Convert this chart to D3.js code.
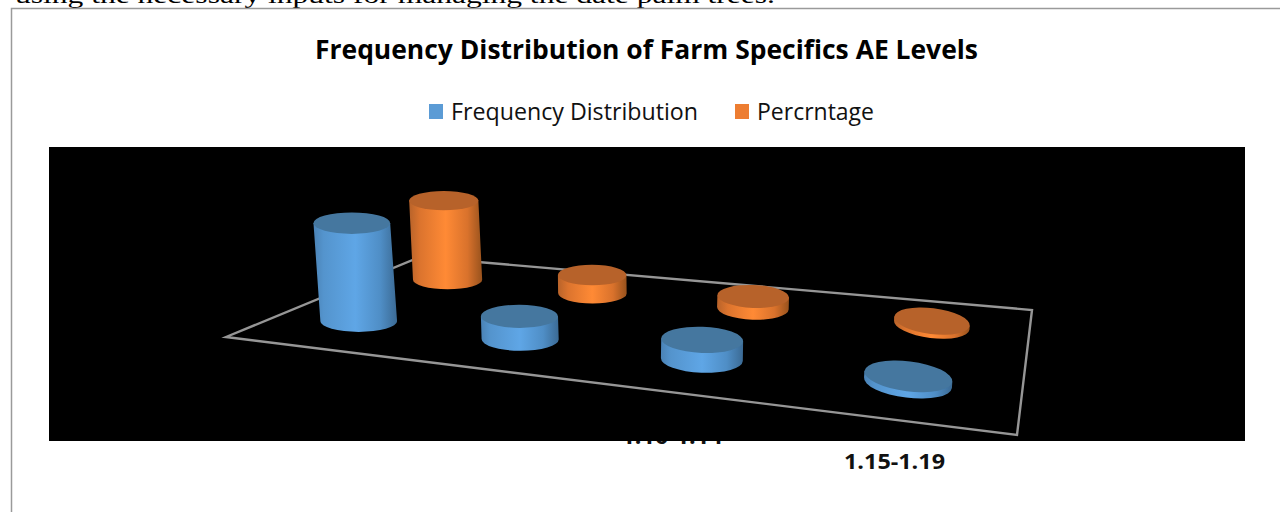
<!DOCTYPE html>
<html><head><meta charset="utf-8">
<script src="https://cdn.jsdelivr.net/npm/d3@7"></script>
<style>html,body{margin:0;padding:0;background:#fff;overflow:hidden}svg{display:block}</style>
</head><body><svg id="c" width="1280" height="512"></svg>
<script>
const categories = ["1.00-1.04","1.05-1.09","1.10-1.14","1.15-1.19"];
const frequency = [62, 14.5, 12.5, 4];
const percentage = [50, 11.5, 7.5, 2.5];
const seriesNames = ["Frequency Distribution","Percrntage"];
const shownTicks = ["1.10-1.14","1.15-1.19"];

const svg = d3.select("#c");
const FONT = "'Open Sans',sans-serif";

// page fragment
svg.append("text").attr("x",15).attr("y",3).attr("font-family","'Liberation Serif',serif")
  .attr("font-size",24).attr("textLength",760).attr("lengthAdjust","spacingAndGlyphs").attr("fill","#000")
  .text("using the necessary inputs for managing the date palm trees.");
svg.append("path").attr("d","M11.5 512V8.5H1280").attr("fill","none").attr("stroke","#9a9a9a").attr("stroke-width",1.5);

// title and legend
svg.append("text").attr("x",646.5).attr("y",59).attr("text-anchor","middle").attr("font-family",FONT)
  .attr("font-weight",700).attr("font-size",27).attr("textLength",663).attr("lengthAdjust","spacingAndGlyphs")
  .attr("fill","#000").text("Frequency Distribution of Farm Specifics AE Levels");
const seriesColour = d3.scaleOrdinal(seriesNames,["#5b9bd5","#ed7d31"]);
const legendX = d3.scaleOrdinal(seriesNames,[429,735]);
const legendW = d3.scaleOrdinal(seriesNames,[247,117]);
seriesNames.forEach(n=>{
  svg.append("rect").attr("x",legendX(n)).attr("y",104).attr("width",14).attr("height",15).attr("fill",seriesColour(n));
  svg.append("text").attr("x",legendX(n)+22).attr("y",120).attr("font-family",FONT).attr("font-size",24)
    .attr("textLength",legendW(n)).attr("lengthAdjust","spacingAndGlyphs").attr("fill","#111").text(n);
});

// category labels (the first is partly hidden by the plot area, drawn after it)
const tickX = d3.scaleOrdinal(shownTicks,[672,894.5]);
const tickY = d3.scaleOrdinal(shownTicks,[444,469]);
shownTicks.forEach(t=>{
  svg.append("text").attr("x",tickX(t)).attr("y",tickY(t)).attr("text-anchor","middle").attr("font-family",FONT)
    .attr("font-weight",700).attr("font-size",22).attr("textLength",101).attr("lengthAdjust","spacingAndGlyphs")
    .attr("fill","#111").text(t);
});
svg.append("rect").attr("x",49).attr("y",147).attr("width",1196).attr("height",294).attr("fill","#000");

// gradients
const defs = svg.append("defs");
function grad(id,stops){
  const g = defs.append("linearGradient").attr("id",id);
  stops.forEach(([o,c])=>g.append("stop").attr("offset",o).attr("stop-color",c));
}
grad("g0",[[0,"#4a82b5"],[.12,"#5494cd"],[.5,"#5fa6e6"],[.8,"#4f8ec6"],[1,"#3b6a94"]]);
grad("g1",[[0,"#b8632a"],[.15,"#dc742e"],[.5,"#ff8a35"],[.8,"#d9722c"],[1,"#98521d"]]);
const topColour = ["#45779f","#b7622a"];

// floor: a perspective map of the unit square onto the plot floor
const F = {a:[226,337],b:[1017,435],c:[1032,310],d:[420,257]};
function homography(p){
  const [x0,y0]=p.a,[x1,y1]=p.b,[x2,y2]=p.c,[x3,y3]=p.d;
  const dx1=x1-x2,dx2=x3-x2,sx=x0-x1+x2-x3,dy1=y1-y2,dy2=y3-y2,sy=y0-y1+y2-y3;
  const den=dx1*dy2-dx2*dy1;
  const g=(sx*dy2-dx2*sy)/den,h=(dx1*sy-sx*dy1)/den;
  const A=x1-x0+g*x1,B=x3-x0+h*x3,D=y1-y0+g*y1,E=y3-y0+h*y3;
  return (u,v)=>{const w=g*u+h*v+1;return [(A*u+B*v+x0)/w,(D*u+E*v+y0)/w];};
}
const H = homography(F);
const U = d3.scaleBand(categories,[0,1]);
const V = d3.scalePoint(seriesNames,[0.25,0.75]);
const height = d3.scaleLinear([0,62],[0,98]);
const tilt = d3.scalePow([0,3],[0,7]).exponent(3);
const flat = d3.scaleLinear([0,1],[0.27,0.35]);
const lean = d3.scaleLinear([0,1280],[-0.16,0.16]);
const widthShare = d3.scalePow([0,3],[0.5,0.4]).exponent(0.6);

svg.append("path")
  .attr("d",`M${F.a}L${F.b}L${F.c}L${F.d}Z`).attr("fill","none").attr("stroke","#969696").attr("stroke-width",2.4);

function cylinder(cat,i,s,si,value){
  const u=U(cat)+U.bandwidth()/2, v=V(s), share=widthShare(i);
  const [cx,cy]=H(u,v);
  const [lx,ly]=H(u-0.5*U.bandwidth()*share,v),[rx2,ry2]=H(u+0.5*U.bandwidth()*share,v);
  const rx=Math.hypot(rx2-lx,ry2-ly)/2;
  const ry=rx*flat(u);
  const t=tilt(i), c=Math.cos(t*Math.PI/180), sn=Math.sin(t*Math.PI/180);
  const h=height(value), tx=cx+lean(cx)*h, ty=cy-h;
  const g=svg.append("g");
  g.append("path").attr("fill",`url(#g${si})`)
    .attr("d",`M${tx-rx*c} ${ty-rx*sn}L${cx-rx*c} ${cy-rx*sn}A${rx} ${ry} ${t} 0 0 ${cx+rx*c} ${cy+rx*sn}L${tx+rx*c} ${ty+rx*sn}Z`);
  g.append("ellipse").attr("cx",tx).attr("cy",ty).attr("rx",rx).attr("ry",ry)
    .attr("transform",`rotate(${t} ${tx} ${ty})`).attr("fill",topColour[si]);
}
[[percentage,1],[frequency,0]].forEach(([vals,si])=>{
  categories.forEach((cat,i)=>cylinder(cat,i,seriesNames[si],si,vals[i]));
});
</script></body></html>
